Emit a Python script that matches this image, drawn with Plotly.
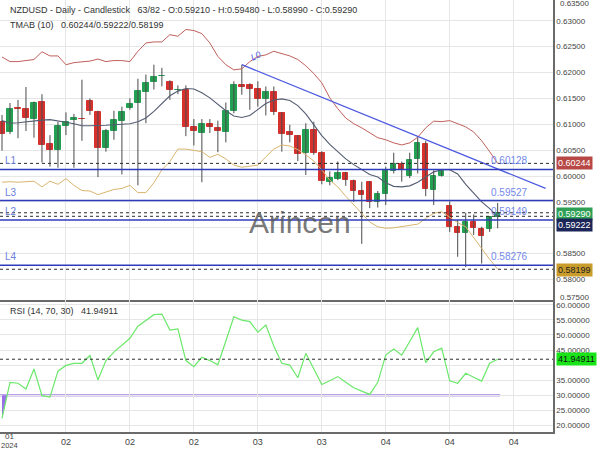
import plotly.graph_objects as go

# ---------------- data ----------------
bars = list(range(63))
opens = [0.6105, 0.6085, 0.6131, 0.6130, 0.6110, 0.6143, 0.6061, 0.6051, 0.6097, 0.6108,
         0.6111, 0.6145, 0.6124, 0.6055, 0.6087, 0.6106, 0.6132, 0.6141, 0.6163, 0.6181,
         0.6193, 0.6181, 0.6166, 0.6167, 0.6094, 0.6083, 0.6101, 0.6092, 0.6085, 0.6126,
         0.6175, 0.6176, 0.6168, 0.6149, 0.6162, 0.6121, 0.6085, 0.6077, 0.6044, 0.6088,
         0.6044, 0.5988, 0.5995, 0.6005, 0.5990, 0.5971, 0.5988, 0.5950, 0.5966, 0.6010,
         0.6024, 0.6001, 0.6032, 0.6062, 0.5973, 0.6000, 0.5942, 0.5902, 0.5889, 0.5911,
         0.5898, 0.5898, 0.59210]
highs = [0.6118, 0.6141, 0.6147, 0.6172, 0.6144, 0.6158, 0.6079, 0.6105, 0.6123, 0.6120,
         0.6186, 0.6150, 0.6126, 0.6091, 0.6126, 0.6134, 0.6150, 0.6188, 0.6196, 0.6215,
         0.6209, 0.6185, 0.6175, 0.6175, 0.6110, 0.6110, 0.6110, 0.6107, 0.6142, 0.6183,
         0.6215, 0.6179, 0.6183, 0.6173, 0.6173, 0.6123, 0.6099, 0.6079, 0.6102, 0.6105,
         0.6048, 0.6009, 0.6028, 0.6008, 0.5993, 0.5989, 0.5990, 0.5971, 0.6018, 0.6045,
         0.6028, 0.6045, 0.6076, 0.6068, 0.6011, 0.6011, 0.5951, 0.5915, 0.5929, 0.5926,
         0.5902, 0.5922, 0.59480]
lows = [0.6049, 0.6081, 0.6073, 0.6087, 0.6074, 0.6026, 0.6018, 0.6016, 0.6079, 0.6016,
        0.6068, 0.6118, 0.5998, 0.6047, 0.6070, 0.6003, 0.6128, 0.5982, 0.6102, 0.6167,
        0.6173, 0.6147, 0.6158, 0.6077, 0.6059, 0.5988, 0.6083, 0.6046, 0.6065, 0.6121,
        0.6157, 0.6128, 0.6134, 0.6117, 0.6118, 0.6047, 0.6065, 0.6029, 0.6002, 0.6041,
        0.5984, 0.5982, 0.5992, 0.5981, 0.5950, 0.5869, 0.5938, 0.5939, 0.5944, 0.6005,
        0.5989, 0.5996, 0.6005, 0.5961, 0.5944, 0.5999, 0.5892, 0.5844, 0.5824, 0.5886,
        0.5831, 0.5892, 0.58990]
closes = [0.6081, 0.6130, 0.6130, 0.6112, 0.6142, 0.6059, 0.6051, 0.6097, 0.6105, 0.6112,
          0.6110, 0.6125, 0.6055, 0.6087, 0.6108, 0.6123, 0.6139, 0.6165, 0.6180, 0.6191,
          0.6194, 0.6166, 0.6167, 0.6095, 0.6086, 0.6101, 0.6094, 0.6086, 0.6126, 0.6176,
          0.6172, 0.6168, 0.6149, 0.6162, 0.6123, 0.6081, 0.6079, 0.6043, 0.6088, 0.6044,
          0.5991, 0.5997, 0.6005, 0.5992, 0.5971, 0.5963, 0.5950, 0.5965, 0.6011, 0.6024,
          0.6012, 0.6031, 0.6063, 0.5974, 0.6000, 0.6010, 0.5902, 0.5889, 0.5911, 0.5900,
          0.5884, 0.5920, 0.59290]

tma_upper = [0.6230, 0.6221, 0.6221, 0.6223, 0.6225, 0.6240, 0.6232, 0.6232, 0.6215, 0.6219,
             0.6221, 0.6222, 0.6226, 0.6221, 0.6223, 0.6223, 0.6221, 0.6241, 0.6257, 0.6259,
             0.6259, 0.6273, 0.6270, 0.6283, 0.6281, 0.6275, 0.6257, 0.6231, 0.6215, 0.6205,
             0.6207, 0.6221, 0.6231, 0.6234, 0.6241, 0.6236, 0.6232, 0.6225, 0.6213, 0.6198,
             0.6180, 0.6151, 0.6130, 0.6112, 0.6101, 0.6093, 0.6083, 0.6074, 0.6070, 0.6064,
             0.6060, 0.6064, 0.6075, 0.6093, 0.6106, 0.6105, 0.6107, 0.6101, 0.6095, 0.6085,
             0.6068, 0.6047, 0.60244]
tma_mid = [0.6107, 0.6102, 0.6103, 0.6105, 0.6107, 0.6108, 0.6109, 0.6107, 0.6104, 0.6101,
           0.6097, 0.6097, 0.6097, 0.6098, 0.6099, 0.6100, 0.6101, 0.6105, 0.6112, 0.6125,
           0.6140, 0.6155, 0.6164, 0.6169, 0.6168, 0.6161, 0.6151, 0.6138, 0.6126, 0.6116,
           0.6113, 0.6117, 0.6128, 0.6140, 0.6147, 0.6149, 0.6146, 0.6136, 0.6120, 0.6099,
           0.6078, 0.6061, 0.6047, 0.6033, 0.6022, 0.6012, 0.6003, 0.5998, 0.5987, 0.5980,
           0.5979, 0.5981, 0.5988, 0.5998, 0.6008, 0.6012, 0.6012, 0.6004, 0.5984, 0.5967,
           0.5950, 0.5937, 0.59222]
tma_lower = [0.5988, 0.5989, 0.5988, 0.5989, 0.5990, 0.5979, 0.5990, 0.5984, 0.5995, 0.5982,
             0.5972, 0.5971, 0.5964, 0.5969, 0.5974, 0.5976, 0.5982, 0.5968, 0.5968, 0.5987,
             0.6012, 0.6028, 0.6052, 0.6052, 0.6050, 0.6047, 0.6036, 0.6042, 0.6033, 0.6021,
             0.6017, 0.6019, 0.6021, 0.6037, 0.6052, 0.6060, 0.6058, 0.6051, 0.6041, 0.6029,
             0.6012, 0.5992, 0.5979, 0.5961, 0.5944, 0.5926, 0.5911, 0.5902, 0.5899, 0.5900,
             0.5902, 0.5904, 0.5907, 0.5918, 0.5928, 0.5931, 0.5921, 0.5910, 0.5902, 0.5882,
             0.5860, 0.5839, 0.58199]

rsi = [22.4, 34.3, 34.0, 32.1, 38.7, 29.9, 29.4, 38.0, 39.9, 40.6,
       40.6, 43.2, 35.1, 41.5, 44.3, 46.7, 48.9, 52.9, 54.7, 56.7,
       56.9, 51.6, 52.0, 41.5, 39.5, 42.6, 41.5, 40.1, 48.0, 56.0,
       54.9, 54.4, 50.9, 53.3, 46.3, 40.6, 40.0, 35.8, 43.9, 38.8,
       33.6, 34.8, 36.2, 34.3, 32.5, 31.4, 30.3, 34.3, 43.3, 45.3,
       43.3, 47.8, 52.4, 40.8, 44.4, 45.6, 34.8, 34.0, 37.3, 36.0,
       34.7, 40.6, 41.94911]
rsi_value = 41.94911
rsi_low = 30

# horizontal levels (solid blue) and their labels
level_names = ["L1", "L3", "L2", "L4"]
level_values = [0.60128, 0.59527, 0.59149, 0.58276]
# dashed marker lines at last indicator / close values
dashed_values = [0.60244, 0.59290, 0.59222, 0.58199]

# trend line L0
trend_x = [30, 68]
trend_y = [0.6215, 0.5976]

# axis ticks
x_tick_vals = [8, 16, 24, 32, 40, 48, 56, 64]
x_tick_text = ["02", "02", "02", "03", "03", "04", "04", "04"]
first_tick = (1, "01", "2024")
price_ticks = [0.580, 0.585, 0.590, 0.595, 0.600, 0.605, 0.610, 0.615, 0.620, 0.625, 0.630]
price_tick_text = ["0.58000", "0.58500", "", "0.59500", "0.60000", "0.60500", "0.61000",
                   "0.61500", "0.62000", "0.62500", "0.63000"]
rsi_ticks = [20, 25, 30, 35, 40, 45, 50, 55, 60]
rsi_tick_text = ["20.00000", "25.00000", "30.00000", "35.00000", "", "45.00000",
                 "50.00000", "55.00000", "60.00000"]

# ---------------- styling ----------------
RED = "#d7312d"
GREEN = "#23a152"
WICK = "#4a4a4a"
GRID = "#e6e6e6"
AXLINE = "#6a6a6a"
FONT = "Liberation Sans, Arial, sans-serif"

fig = go.Figure()

# wicks
wx, wy = [], []
for i, h, l in zip(bars, highs, lows):
    wx += [i, i, None]
    wy += [l, h, None]
fig.add_trace(go.Scatter(x=wx, y=wy, mode="lines", line=dict(color=WICK, width=1),
                         hoverinfo="skip", xaxis="x", yaxis="y"))

# bodies
body_col = [GREEN if c >= o else RED for o, c in zip(opens, closes)]
fig.add_trace(go.Bar(x=bars, y=[abs(c - o) for o, c in zip(opens, closes)],
                     base=[min(o, c) for o, c in zip(opens, closes)],
                     width=0.68, marker=dict(color=body_col, line=dict(color=body_col, width=1)),
                     xaxis="x", yaxis="y", hoverinfo="skip"))

# TMA bands
fig.add_trace(go.Scatter(x=bars, y=tma_upper, mode="lines", line=dict(color="#c0605c", width=1),
                         xaxis="x", yaxis="y"))
fig.add_trace(go.Scatter(x=bars, y=tma_lower, mode="lines", line=dict(color="#d9b56e", width=1),
                         xaxis="x", yaxis="y"))
fig.add_trace(go.Scatter(x=bars, y=tma_mid, mode="lines", line=dict(color="#535c70", width=1.1),
                         xaxis="x", yaxis="y"))

# trend line
fig.add_trace(go.Scatter(x=trend_x, y=trend_y, mode="lines", line=dict(color="#4d5ae0", width=1.3),
                         xaxis="x", yaxis="y"))

# RSI fill below 30 at start
t = (rsi_low - rsi[0]) / (rsi[1] - rsi[0])
fig.add_trace(go.Scatter(x=[bars[0], bars[0], bars[0] + t], y=[rsi_low, rsi[0], rsi_low],
                         fill="toself", fillcolor="#9a72e8", line=dict(width=0),
                         mode="lines", xaxis="x2", yaxis="y2"))
# RSI line
fig.add_trace(go.Scatter(x=bars, y=rsi, mode="lines", line=dict(color="#6be86b", width=1.2),
                         xaxis="x2", yaxis="y2"))

shapes = []
for v in level_values:
    shapes.append(dict(type="line", xref="x domain", x0=0, x1=1, yref="y", y0=v, y1=v,
                       line=dict(color="#2e3cbc", width=1.5), layer="above"))
for v in dashed_values:
    shapes.append(dict(type="line", xref="x domain", x0=0, x1=1, yref="y", y0=v, y1=v,
                       line=dict(color="#2a2a2a", width=1, dash="3px,3px"), layer="above"))
shapes.append(dict(type="line", xref="x2 domain", x0=0, x1=1, yref="y2", y0=rsi_value, y1=rsi_value,
                   line=dict(color="#2a2a2a", width=1, dash="3px,3px")))
shapes.append(dict(type="line", xref="x2", x0=-0.25, x1=62.3, yref="y2", y0=rsi_low, y1=rsi_low,
                   line=dict(color="#b9a1ec", width=2.5), layer="below"))

ann = []
def txt(x, y, s, size=9, color="#333", **kw):
    d = dict(x=x, y=y, xref="paper", yref="paper", text=s, showarrow=False,
             xanchor="left", yanchor="middle", font=dict(family=FONT, size=size, color=color))
    d.update(kw)
    ann.append(d)

txt(0.0145, 0.977, "NZDUSD - Daily - Candlestick&nbsp;&nbsp;&nbsp;63/82 - O:0.59210 - H:0.59480 - L:0.58990 - C:0.59290")
txt(0.0145, 0.942, "TMAB (10)&nbsp;&nbsp;&nbsp;0.60244/0.59222/0.58199")
txt(0.0145, 0.280, "RSI (14, 70, 30)&nbsp;&nbsp;&nbsp;41.94911")

# level labels
for name, v in zip(level_names, level_values):
    ann.append(dict(x=0.006, y=v, xref="paper", yref="y", text=name, showarrow=False,
                    xanchor="left", yanchor="bottom", yshift=1,
                    font=dict(family=FONT, size=10, color="#6b7fdc")))
    ann.append(dict(x=0.884, y=v, xref="paper", yref="y", text=f"{v:.5f}", showarrow=False,
                    xanchor="left", yanchor="bottom", yshift=1,
                    font=dict(family=FONT, size=10, color="#7489ea")))

ann.append(dict(x=trend_x[0] + 0.6, y=trend_y[0], xref="x", yref="y", text="<i>L0</i>", showarrow=False,
                xanchor="left", yanchor="bottom", textangle=-25, yshift=-1,
                font=dict(family=FONT, size=9, color="#4d5ae0")))

# watermark
ann.append(dict(x=300 / 553, y=0.5911, xref="paper", yref="y", text="Arincen", showarrow=False,
                xanchor="center", yanchor="middle",
                font=dict(family=FONT, size=30, color="rgba(85,85,85,0.8)")))

# value boxes on right axis
def box(v, yref, s, bg, fg, yshift=0):
    ann.append(dict(x=1, y=v, xref="paper", yref=yref, text=s, showarrow=False,
                    xanchor="left", yanchor="middle", xshift=3, yshift=yshift,
                    bgcolor=bg, borderpad=1,
                    font=dict(family=FONT, size=9, color=fg)))

box(tma_upper[-1], "y", f"{tma_upper[-1]:.5f}", "#b84845", "white")
box(closes[-1], "y", f"{closes[-1]:.5f}", "#2e9f55", "white", yshift=-1)
box(tma_mid[-1], "y", f"{tma_mid[-1]:.5f}", "#1c2558", "white", yshift=-9)
box(tma_lower[-1], "y", f"{tma_lower[-1]:.5f}", "#c99c2c", "#222", yshift=-1)
box(rsi_value, "y2", f"{rsi_value:.5f}", "#18e418", "#111")

# clamped edge tick labels
txt(1, 0.993, "0.63500", size=8, color="#444", xshift=5)
txt(1, 0.312, "0.57500", size=8, color="#444", xshift=5)

# first x label
ann.append(dict(x=first_tick[0], y=0, xref="x2", yref="paper", text=first_tick[1], showarrow=False,
                xanchor="center", yanchor="top", yshift=2,
                font=dict(family=FONT, size=8, color="#444")))
ann.append(dict(x=first_tick[0], y=0, xref="x2", yref="paper", text=first_tick[2], showarrow=False,
                xanchor="center", yanchor="top", yshift=-6.5,
                font=dict(family=FONT, size=7.5, color="#444")))

main_dom = [(432 - 300) / 432, 1]
rsi_dom = [0, (432 - 300) / 432]

fig.update_layout(
    width=600, height=450,
    margin=dict(l=0, r=47, t=0, b=18),
    paper_bgcolor="white", plot_bgcolor="white",
    showlegend=False, barmode="overlay", bargap=0,
    font=dict(family=FONT),
    shapes=shapes, annotations=ann,
    xaxis=dict(domain=[0, 1], anchor="y", range=[-0.25, 68.92], tickvals=x_tick_vals,
               showticklabels=False, showgrid=True, gridcolor=GRID, zeroline=False,
               showline=True, linecolor=AXLINE, linewidth=1.5, ticks=""),
    yaxis=dict(domain=main_dom, anchor="x", side="right", range=[0.57605, 0.6340],
               tickvals=price_ticks, ticktext=price_tick_text, showgrid=True, gridcolor=GRID,
               zeroline=False, showline=True, linecolor=AXLINE, linewidth=1.5, ticks="",
               tickfont=dict(size=8, color="#444")),
    xaxis2=dict(domain=[0, 1], anchor="y2", matches="x", range=[-0.25, 68.92],
                tickvals=x_tick_vals, ticktext=x_tick_text, showgrid=True, gridcolor=GRID,
                zeroline=False, showline=True, linecolor=AXLINE, linewidth=1.5, ticks="",
                tickfont=dict(size=9, color="#444")),
    yaxis2=dict(domain=rsi_dom, anchor="x2", side="right", range=[17.85, 61.56],
                tickvals=rsi_ticks, ticktext=rsi_tick_text, showgrid=True, gridcolor=GRID,
                zeroline=False, showline=True, linecolor=AXLINE, linewidth=1.5, ticks="",
                tickfont=dict(size=8, color="#444")),
)

fig.write_html("out.html")
